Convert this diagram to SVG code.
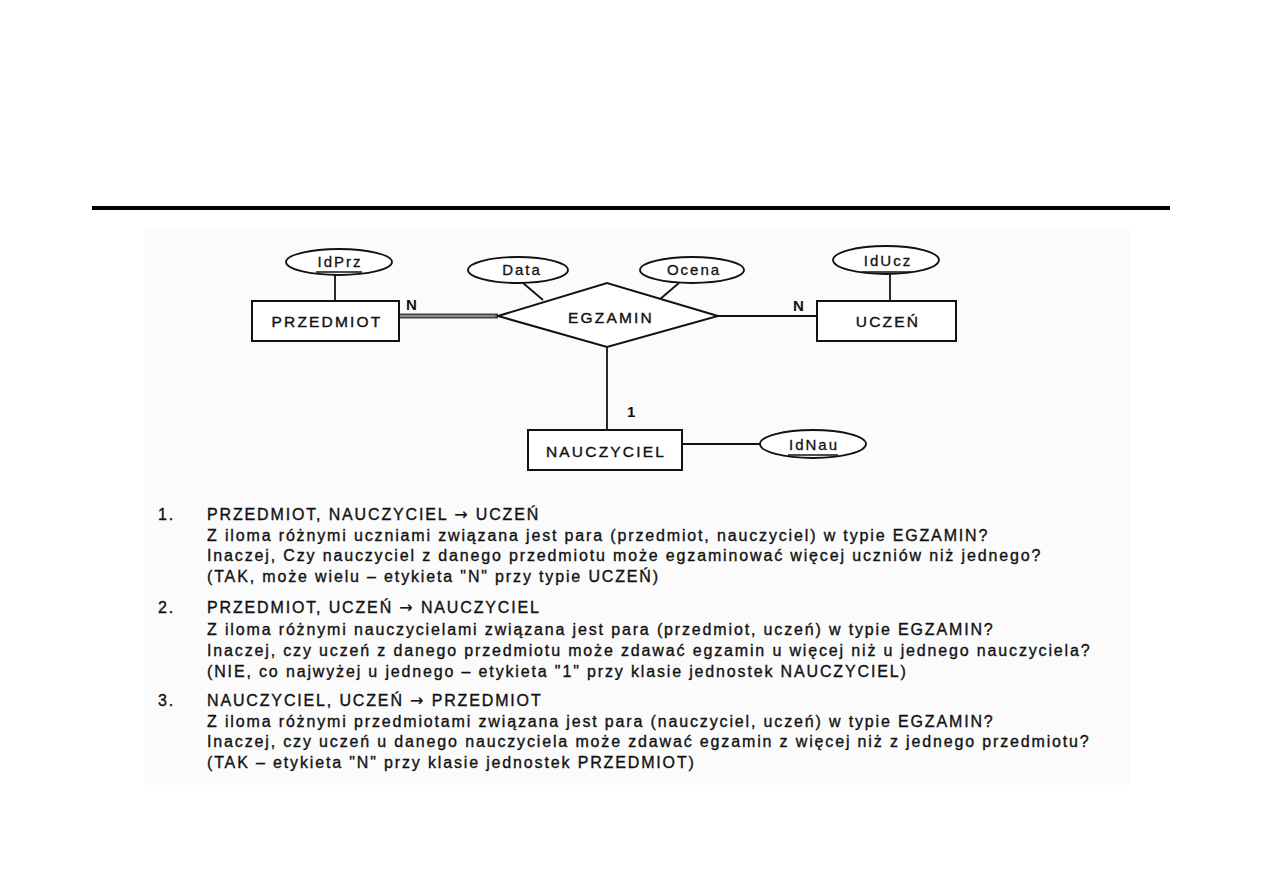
<svg xmlns="http://www.w3.org/2000/svg" width="1263" height="893" viewBox="0 0 1263 893">
<style>
.ln{stroke:#111;stroke-width:1.8;fill:none}
.box{fill:#fff;stroke:#111;stroke-width:2}
.att{fill:#fff;stroke:#111;stroke-width:1.8}
.lbl{font-family:"Liberation Sans",Arial,sans-serif;font-size:15.5px;letter-spacing:2.2px;fill:#111;stroke:#111;stroke-width:0.4;text-anchor:middle}
.al{font-family:"Liberation Sans",Arial,sans-serif;font-size:15px;letter-spacing:2px;fill:#111;stroke:#111;stroke-width:0.3;text-anchor:middle}
.card{font-family:"Liberation Sans",Arial,sans-serif;font-size:15px;font-weight:bold;fill:#111}
.tx{font-family:"Liberation Sans",Arial,sans-serif;font-size:16px;letter-spacing:1.85px;fill:#111;stroke:#111;stroke-width:0.35}
.ar{font-family:"DejaVu Sans",sans-serif;stroke-width:0.2}
</style>
<rect width="1263" height="893" fill="#fff"/>
<rect x="145" y="228" width="985" height="557" fill="#fbfbfb"/>
<rect x="92" y="206" width="1078" height="4" fill="#000"/>

<g id="connectors">
  <line x1="399" y1="316" x2="498" y2="316" stroke="#444" stroke-width="5"/>
  <line x1="399" y1="316" x2="498" y2="316" stroke="#8a8a8a" stroke-width="2"/>
  <line class="ln" x1="718" y1="316" x2="817" y2="316"/>
  <line class="ln" x1="607" y1="347" x2="607" y2="430"/>
  <line class="ln" x1="335" y1="275" x2="335" y2="301"/>
  <line class="ln" x1="890" y1="274" x2="890" y2="301"/>
  <line class="ln" x1="523" y1="283" x2="543" y2="300"/>
  <line class="ln" x1="679" y1="283" x2="659" y2="300"/>
  <line class="ln" x1="682" y1="444" x2="760" y2="444"/>
  <text class="card" x="406" y="310">N</text>
  <text class="card" x="793" y="311">N</text>
  <text class="card" x="627" y="417">1</text>
</g>

<g id="PRZEDMIOT">
  <rect class="box" x="252" y="301" width="147" height="40"/>
  <text class="lbl" x="327" y="327">PRZEDMIOT</text>
</g>
<g id="IdPrz">
  <ellipse class="att" cx="339" cy="262" rx="53" ry="13"/>
  <text class="al" x="340" y="267">IdPrz</text>
  <line x1="316" y1="272" x2="362" y2="272" stroke="#111" stroke-width="1.3"/>
</g>
<g id="EGZAMIN">
  <polygon class="box" points="498,316 607,283 718,316 607,347"/>
  <text class="lbl" x="611" y="323">EGZAMIN</text>
</g>
<g id="Data">
  <ellipse class="att" cx="518" cy="270" rx="50" ry="13"/>
  <text class="al" x="522" y="275">Data</text>
</g>
<g id="Ocena">
  <ellipse class="att" cx="692" cy="270" rx="52" ry="13"/>
  <text class="al" x="694" y="275">Ocena</text>
</g>
<g id="UCZEN">
  <rect class="box" x="817" y="301" width="139" height="40"/>
  <text class="lbl" x="888" y="327">UCZEŃ</text>
</g>
<g id="IdUcz">
  <ellipse class="att" cx="886" cy="260" rx="53" ry="14"/>
  <text class="al" x="888" y="266">IdUcz</text>
  <line x1="862" y1="272" x2="911" y2="272" stroke="#111" stroke-width="1.3"/>
</g>
<g id="NAUCZYCIEL">
  <rect class="box" x="528" y="430" width="154" height="40"/>
  <text class="lbl" x="606" y="457">NAUCZYCIEL</text>
</g>
<g id="IdNau">
  <ellipse class="att" cx="813" cy="444" rx="53" ry="14"/>
  <text class="al" x="814" y="450">IdNau</text>
  <line x1="788" y1="455" x2="838" y2="455" stroke="#111" stroke-width="1.3"/>
</g>

<g id="notes">
  <text class="tx" x="158" y="520">1.</text>
  <text class="tx" x="207" y="520">PRZEDMIOT, NAUCZYCIEL <tspan class="ar">→</tspan> UCZEŃ</text>
  <text class="tx" x="207" y="541">Z iloma różnymi uczniami związana jest para (przedmiot, nauczyciel) w typie EGZAMIN?</text>
  <text class="tx" x="207" y="561">Inaczej, Czy nauczyciel z danego przedmiotu może egzaminować więcej uczniów niż jednego?</text>
  <text class="tx" x="207" y="582">(TAK, może wielu – etykieta "N" przy typie UCZEŃ)</text>
  <text class="tx" x="158" y="613">2.</text>
  <text class="tx" x="207" y="613">PRZEDMIOT, UCZEŃ <tspan class="ar">→</tspan> NAUCZYCIEL</text>
  <text class="tx" x="207" y="635">Z iloma różnymi nauczycielami związana jest para (przedmiot, uczeń) w typie EGZAMIN?</text>
  <text class="tx" x="207" y="656">Inaczej, czy uczeń z danego przedmiotu może zdawać egzamin u więcej niż u jednego nauczyciela?</text>
  <text class="tx" x="207" y="677">(NIE, co najwyżej u jednego – etykieta "1" przy klasie jednostek NAUCZYCIEL)</text>
  <text class="tx" x="158" y="706">3.</text>
  <text class="tx" x="207" y="706">NAUCZYCIEL, UCZEŃ <tspan class="ar">→</tspan> PRZEDMIOT</text>
  <text class="tx" x="207" y="727">Z iloma różnymi przedmiotami związana jest para (nauczyciel, uczeń) w typie EGZAMIN?</text>
  <text class="tx" x="207" y="747">Inaczej, czy uczeń u danego nauczyciela może zdawać egzamin z więcej niż z jednego przedmiotu?</text>
  <text class="tx" x="207" y="768">(TAK – etykieta "N" przy klasie jednostek PRZEDMIOT)</text>
</g>
</svg>
